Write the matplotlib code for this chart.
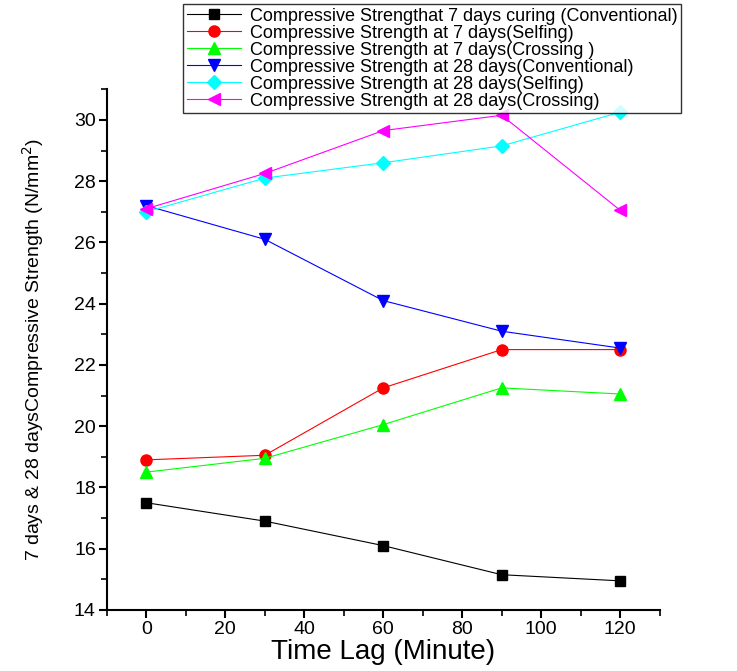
import numpy as np
import matplotlib.pyplot as plt
from matplotlib.ticker import MultipleLocator

plt.rcParams['font.family'] = ['Liberation Sans', 'DejaVu Sans']

time_lag = [0, 30, 60, 90, 120]

cs7_conv = [17.5, 16.9, 16.1, 15.15, 14.95]
cs7_self = [18.9, 19.05, 21.25, 22.5, 22.5]
cs7_cross = [18.5, 18.95, 20.05, 21.25, 21.05]
cs28_conv = [27.2, 26.1, 24.1, 23.1, 22.55]
cs28_self = [27.0, 28.1, 28.6, 29.15, 30.25]
cs28_cross = [27.1, 28.25, 29.65, 30.15, 27.05]

labels = ['Compressive Strengthat 7 days curing (Conventional)',
          'Compressive Strength at 7 days(Selfing)',
          'Compressive Strength at 7 days(Crossing )',
          'Compressive Strength at 28 days(Conventional)',
          'Compressive Strength at 28 days(Selfing)',
          'Compressive Strength at 28 days(Crossing)']

fig = plt.figure(figsize=(7.37, 6.71), dpi=100)
ax = fig.add_axes([0.145, 0.091, 0.750, 0.776])

series = [cs7_conv, cs7_self, cs7_cross, cs28_conv, cs28_self, cs28_cross]
colors = ['black', 'red', '#00ff00', 'blue', 'cyan', 'magenta']
markers = ['s', 'o', '^', 'v', 'D', '<']
msizes = [7, 8, 8, 9, 7, 9]

for y, c, m, ms, lab in zip(series, colors, markers, msizes, labels):
    ax.plot(time_lag, y, color=c, marker=m, markersize=ms, lw=0.8, label=lab)

ax.set_xlim(-10, 130)
ax.set_ylim(14, 31)
ax.xaxis.set_major_locator(MultipleLocator(20))
ax.xaxis.set_minor_locator(MultipleLocator(10))
ax.yaxis.set_major_locator(MultipleLocator(2))
ax.yaxis.set_minor_locator(MultipleLocator(1))
ax.spines['top'].set_visible(False)
ax.spines['right'].set_visible(False)
ax.spines['left'].set_linewidth(1.5)
ax.spines['bottom'].set_linewidth(1.5)
ax.tick_params(which='major', direction='out', length=6, width=1.5, labelsize=14, pad=2)
ax.tick_params(which='minor', direction='out', length=4.5, width=1.2)

ax.set_xlabel('Time Lag (Minute)', fontsize=20, labelpad=1)
ax.set_ylabel('7 days & 28 daysCompressive Strength (N/mm$^2$)', fontsize=14, labelpad=20)

leg = ax.legend(loc='upper left', fontsize=13, frameon=True,
                fancybox=False, edgecolor='black', labelspacing=0.0,
                handlelength=3.0, handletextpad=0.5, borderpad=0.2,
                borderaxespad=0)
leg.set_bbox_to_anchor((183 / 737, 1 - 4 / 671), transform=fig.transFigure)
leg.get_frame().set_linewidth(1.0)

fig.savefig('out.png', dpi=100)
